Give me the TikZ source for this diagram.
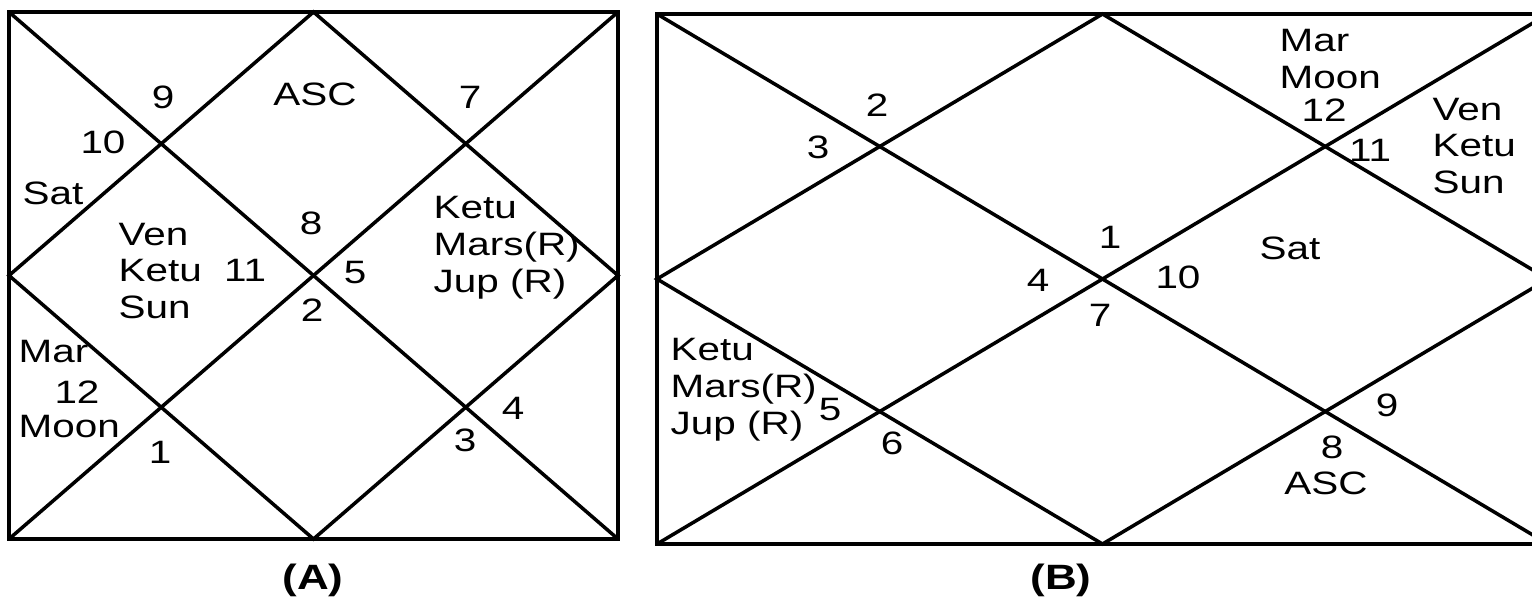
\documentclass[tikz,border=0pt]{standalone}
\usepackage{fontspec}
\setmainfont{Liberation Sans}[FakeStretch=1.25]

\begin{document}
\begin{tikzpicture}[x=0.01cm, y=-0.01cm,
  house/.style={inner sep=0pt, font=\fontsize{9.2}{10.5}\selectfont},
  planets/.style={inner sep=0pt, anchor=west, align=left, font=\fontsize{9.2}{10.5}\selectfont},
  caption/.style={inner sep=0pt, font=\fontsize{10}{12}\selectfont\bfseries},
  chartline/.style={black, line width=1pt},
  frame/.style={black, line width=1.3pt}]
  \clip (0,0) rectangle (1532,605);
  \fill[white] (0,0) rectangle (1532,605);

  % chart (A)
  \coordinate (A-nw) at (9,12);
  \coordinate (A-se) at (618,539);
  \coordinate (A-n) at (313.5,12);
  \coordinate (A-s) at (313.5,539);
  \coordinate (A-w) at (9,275.5);
  \coordinate (A-e) at (618,275.5);
  \draw[frame] (A-nw) rectangle (A-se);
  \draw[chartline] (A-nw) -- (A-se);
  \draw[chartline] (A-nw |- A-se) -- (A-se |- A-nw);
  \draw[chartline] (A-w) -- (A-n) -- (A-e) -- (A-s) -- cycle;

  \node[house] (A9) at (163,97) {9};
  \node[house] (A10) at (103,142) {10};
  \node[house] (Asat) at (53,193) {Sat};
  \node[house] (Aasc) at (315,94) {ASC};
  \node[house] (A7) at (470,97) {7};
  \node[house] (A8) at (311,223) {8};
  \node[planets] (Aven) at (118,271) {Ven\\Ketu\\Sun};
  \node[house] (A11) at (245,270) {11};
  \node[house] (A5) at (355,273) {5};
  \node[house] (A2) at (312,310) {2};
  \node[planets] (Aketu) at (433,248) {Ketu\\Mars(R)\\Jup (R)};
  \node[planets] (Amar) at (18,352) {Mar};
  \node[house] (A12) at (77,392) {12};
  \node[planets] (Amoon) at (18,427) {Moon};
  \node[house] (A1) at (160,452) {1};
  \node[house] (A3) at (465,440) {3};
  \node[house] (A4) at (513,408) {4};
  \node[caption] (Acap) at (313,580) {(A)};

  % chart (B)
  \coordinate (B-nw) at (657,14);
  \coordinate (B-se) at (1548,544);
  \coordinate (B-n) at (1102.5,14);
  \coordinate (B-s) at (1102.5,544);
  \coordinate (B-w) at (657,279);
  \coordinate (B-e) at (1548,279);
  \draw[frame] (B-nw) rectangle (B-se);
  \draw[chartline] (B-nw) -- (B-se);
  \draw[chartline] (B-nw |- B-se) -- (B-se |- B-nw);
  \draw[chartline] (B-w) -- (B-n) -- (B-e) -- (B-s) -- cycle;

  \node[house] (B2) at (877,105) {2};
  \node[house] (B3) at (818,147) {3};
  \node[planets] (Bmar) at (1279,59) {Mar\\Moon};
  \node[house] (B12) at (1324,110) {12};
  \node[house] (B11) at (1370,150) {11};
  \node[planets] (Bven) at (1432,146) {Ven\\Ketu\\Sun};
  \node[house] (B1) at (1110,237) {1};
  \node[house] (B4) at (1038,280) {4};
  \node[house] (B10) at (1178,277) {10};
  \node[house] (Bsat) at (1290,248) {Sat};
  \node[house] (B7) at (1100,315) {7};
  \node[planets] (Bketu) at (670,390) {Ketu\\Mars(R)\\Jup (R)};
  \node[house] (B5) at (830,410) {5};
  \node[house] (B6) at (892,443) {6};
  \node[house] (B9) at (1387,405) {9};
  \node[house] (B8) at (1332,447) {8};
  \node[house] (Basc) at (1326,483) {ASC};
  \node[caption] (Bcap) at (1061,580) {(B)};
\end{tikzpicture}
\end{document}
